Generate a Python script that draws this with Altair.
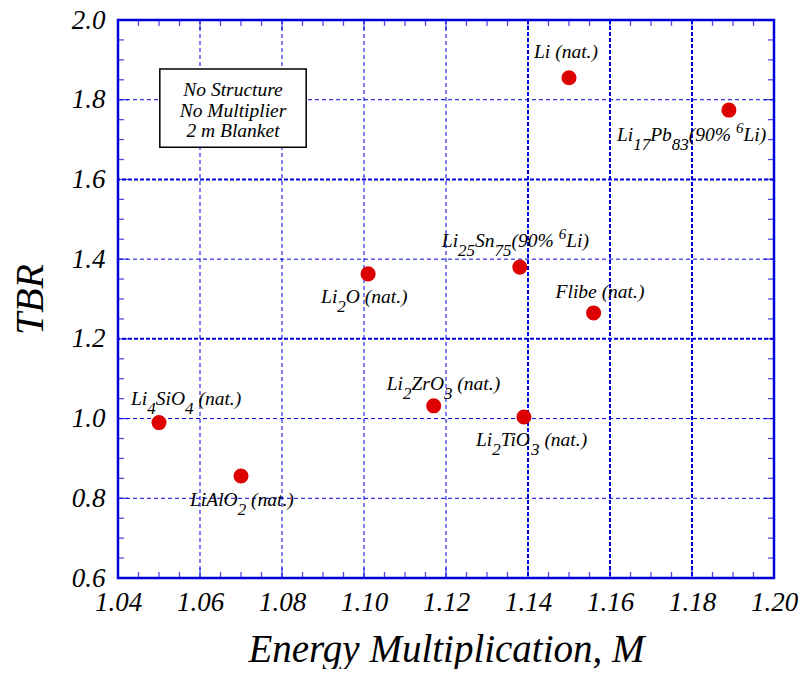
import altair as alt
import pandas as pd

SERIF = "Liberation Serif"
BLUE = "#0000dd"
RED = "#dd0000"

# ---------------- data ----------------
materials = ["Li (nat.)", "Li17Pb83(90% 6Li)", "Li25Sn75(90% 6Li)", "Li2O (nat.)",
             "Flibe (nat.)", "Li2ZrO3 (nat.)", "Li2TiO3 (nat.)", "Li4SiO4 (nat.)",
             "LiAlO2 (nat.)"]
energy_mult = [1.150, 1.189, 1.138, 1.101, 1.156, 1.117, 1.139, 1.050, 1.070]
tbr = [1.855, 1.774, 1.380, 1.363, 1.265, 1.032, 1.004, 0.990, 0.856]

x_ticks = [1.04, 1.06, 1.08, 1.10, 1.12, 1.14, 1.16, 1.18, 1.20]
y_ticks = [0.6, 0.8, 1.0, 1.2, 1.4, 1.6, 1.8, 2.0]
grid_x_thin = [1.06, 1.08, 1.10, 1.12]
grid_x_thick = [1.14, 1.16, 1.18]
grid_y_thin = [0.8, 1.0, 1.4, 1.8]
grid_y_thick = [1.2, 1.6]
x_minor = [round(1.04 + 0.005 * i, 3) for i in range(33) if i % 4]
y_minor = [round(0.6 + 0.05 * i, 2) for i in range(29) if i % 4]

note_lines = ["No Structure", "No Multiplier", "2 m Blanket"]
note_x = [1.0502, 1.0859]
note_y = [1.681, 1.877]

# label pieces: m = normal, b = subscript, p = superscript
label_parts = {
    "Li (nat.)": [("Li (nat.)", "m")],
    "Li17Pb83(90% 6Li)": [("Li", "m"), ("17", "b"), ("Pb", "m"), ("83", "b"),
                          ("(90% ", "m"), ("6", "p"), ("Li)", "m")],
    "Li25Sn75(90% 6Li)": [("Li", "m"), ("25", "b"), ("Sn", "m"), ("75", "b"),
                          ("(90% ", "m"), ("6", "p"), ("Li)", "m")],
    "Li2O (nat.)": [("Li", "m"), ("2", "b"), ("O (nat.)", "m")],
    "Flibe (nat.)": [("Flibe (nat.)", "m")],
    "Li2ZrO3 (nat.)": [("Li", "m"), ("2", "b"), ("ZrO", "m"), ("3", "b"), (" (nat.)", "m")],
    "Li2TiO3 (nat.)": [("Li", "m"), ("2", "b"), ("TiO", "m"), ("3", "b"), (" (nat.)", "m")],
    "Li4SiO4 (nat.)": [("Li", "m"), ("4", "b"), ("SiO", "m"), ("4", "b"), (" (nat.)", "m")],
    "LiAlO2 (nat.)": [("LiAlO", "m"), ("2", "b"), (" (nat.)", "m")],
}

# ---------------- style ----------------
label_offsets = {  # (start dx, baseline dy) in pixels relative to the point
    "Li (nat.)": (-35, -20),
    "Li17Pb83(90% 6Li)": (-112, 31),
    "Li25Sn75(90% 6Li)": (-78, -20),
    "Li2O (nat.)": (-47, 29),
    "Flibe (nat.)": (-38, -15),
    "Li2ZrO3 (nat.)": (-47, -16),
    "Li2TiO3 (nat.)": (-48, 29),
    "Li4SiO4 (nat.)": (-28, -18),
    "LiAlO2 (nat.)": (-51, 30),
}
FS = {"m": 19.5, "b": 17, "p": 15}
DY = {"m": 0, "b": 9, "p": -8}
# Times italic advance widths (per 1000 em)
W = {" ": 250, "(": 333, ")": 333, "%": 833, ".": 250,
     "A": 611, "F": 611, "L": 556, "O": 722, "P": 611, "S": 500, "T": 556, "Z": 556,
     "a": 500, "b": 500, "e": 444, "i": 278, "l": 278, "n": 500, "r": 389, "t": 278}
for d in "0123456789":
    W[d] = 500


def width(s, fs):
    return sum(W.get(c, 500) for c in s) / 1000.0 * fs


xscale = alt.Scale(domain=[1.04, 1.20], nice=False, zero=False)
yscale = alt.Scale(domain=[0.6, 2.0], nice=False, zero=False)

points_df = pd.DataFrame({"material": materials, "M": energy_mult, "TBR": tbr})

# points with axes
points = alt.Chart(points_df).mark_circle(size=227, color=RED, opacity=1).encode(
    x=alt.X("M:Q", scale=xscale, axis=alt.Axis(
        values=x_ticks, format=".2f", labelFont=SERIF, labelFontStyle="italic",
        labelFontSize=27, labelColor="black", labelPadding=11, labelFlush=False,
        labelOverlap=False, tickSize=0, domain=False, grid=False,
        title="Energy Multiplication, M", titleFont=SERIF, titleFontStyle="italic",
        titleFontSize=39, titleFontWeight="normal", titleColor="black", titlePadding=15)),
    y=alt.Y("TBR:Q", scale=yscale, axis=alt.Axis(
        values=y_ticks, format=".1f", labelFont=SERIF, labelFontStyle="italic",
        labelFontSize=27, labelColor="black", labelPadding=13, labelFlush=False,
        labelOverlap=False, tickSize=0, domain=False, grid=False,
        title="TBR", titleFont=SERIF, titleFontStyle="italic",
        titleFontSize=40, titleFontWeight="normal", titleColor="black", titlePadding=21)),
)

layers = []


def vgrid(vals, w, dash):
    return alt.Chart(pd.DataFrame({"v": vals})).mark_rule(
        color=BLUE, strokeWidth=w, strokeDash=dash
    ).encode(x=alt.X("v:Q", scale=xscale, axis=None))


def hgrid(vals, w, dash):
    return alt.Chart(pd.DataFrame({"v": vals})).mark_rule(
        color=BLUE, strokeWidth=w, strokeDash=dash
    ).encode(y=alt.Y("v:Q", scale=yscale, axis=None))


layers += [vgrid(grid_x_thin, 1, [4, 3]), vgrid(grid_x_thick, 2, [4, 2]),
           hgrid(grid_y_thin, 1, [4, 3]), hgrid(grid_y_thick, 2, [4, 2])]

# inward ticks on all four sides
for vals, size in [(x_minor, 12), (x_ticks, 20)]:
    for edge in [0.6, 2.0]:
        layers.append(alt.Chart(pd.DataFrame({"v": vals})).mark_tick(
            orient="vertical", size=size, thickness=1.3, color=BLUE, clip=True
        ).encode(x=alt.X("v:Q", scale=xscale, axis=None),
                 y=alt.YDatum(edge, scale=yscale, axis=None)))
for vals, size in [(y_minor, 12), (y_ticks, 20)]:
    for edge in [1.04, 1.20]:
        layers.append(alt.Chart(pd.DataFrame({"v": vals})).mark_tick(
            orient="horizontal", size=size, thickness=1.3, color=BLUE, clip=True
        ).encode(y=alt.Y("v:Q", scale=yscale, axis=None),
                 x=alt.XDatum(edge, scale=xscale, axis=None)))

# note box
box_df = pd.DataFrame({"x1": [note_x[0]], "x2": [note_x[1]], "y1": [note_y[0]], "y2": [note_y[1]],
                       "xc": [(note_x[0] + note_x[1]) / 2], "yc": [(note_y[0] + note_y[1]) / 2]})
layers.append(alt.Chart(box_df).mark_rect(fill="white", stroke="black", strokeWidth=1.5).encode(
    x=alt.X("x1:Q", scale=xscale, axis=None), x2="x2:Q",
    y=alt.Y("y1:Q", scale=yscale, axis=None), y2="y2:Q"))
layers.append(alt.Chart(box_df).mark_text(
    text=note_lines, font=SERIF, fontStyle="italic", fontSize=19.5, lineHeight=20.5,
    align="center", baseline="middle", color="black", dy=-18
).encode(x=alt.X("xc:Q", scale=xscale, axis=None), y=alt.Y("yc:Q", scale=yscale, axis=None)))

layers.append(points)

# labels with sub/superscripts
for name, xv, yv in zip(materials, energy_mult, tbr):
    ox, oy = label_offsets[name]
    cum = 0.0
    for txt, kind in label_parts[name]:
        fs = FS[kind]
        core = txt.strip()
        lead = width(txt[:len(txt) - len(txt.lstrip())], fs)
        df = pd.DataFrame({"x": [xv], "y": [yv], "t": [core]})
        layers.append(alt.Chart(df).mark_text(
            align="left", baseline="alphabetic", dx=ox + cum + lead, dy=oy + DY[kind],
            fontSize=fs, font=SERIF, fontStyle="italic", color="black"
        ).encode(x=alt.X("x:Q", scale=xscale, axis=None),
                 y=alt.Y("y:Q", scale=yscale, axis=None), text="t:N"))
        cum += width(txt, fs)

chart = alt.layer(*layers).resolve_axis(
    x="independent", y="independent"
).properties(
    width=656, height=558,
    padding={"left": 10, "top": 6, "right": 0, "bottom": 0},
    background="white",
).configure_view(stroke=BLUE, strokeWidth=2.5)

chart.save("out.html", embed_options={"renderer": "svg", "actions": False})
